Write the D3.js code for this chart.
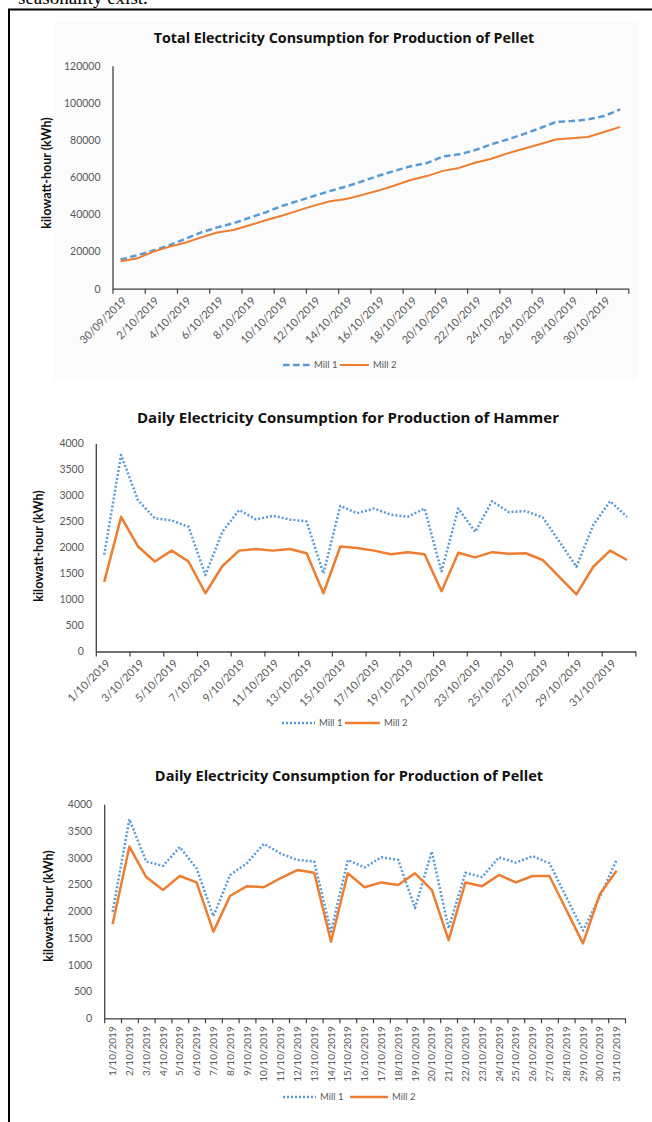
<!DOCTYPE html>
<html>
<head>
<meta charset="utf-8">
<script src="https://cdn.jsdelivr.net/npm/d3@7"></script>
<style>
  html, body { margin: 0; padding: 0; background: #ffffff; }
  svg { display: block; }
</style>
</head>
<body>
<svg id="page" width="652" height="1122"></svg>
<script>
// ---- Series shared by all three charts ----
const seriesNames = ["Mill 1", "Mill 2"];

// ---- Chart 1: cumulative electricity use for pellet production ----
const totalPelletDates = [
  "30/09/2019", "1/10/2019", "2/10/2019", "3/10/2019", "4/10/2019", "5/10/2019",
  "6/10/2019", "7/10/2019", "8/10/2019", "9/10/2019", "10/10/2019", "11/10/2019",
  "12/10/2019", "13/10/2019", "14/10/2019", "15/10/2019", "16/10/2019", "17/10/2019",
  "18/10/2019", "19/10/2019", "20/10/2019", "21/10/2019", "22/10/2019", "23/10/2019",
  "24/10/2019", "25/10/2019", "26/10/2019", "27/10/2019", "28/10/2019", "29/10/2019",
  "30/10/2019", "31/10/2019"
];
const totalPelletMill1 = [
  15700, 17900, 20400, 23300, 26700, 30300, 33000, 35200, 38200, 41100, 44500,
  47200, 49900, 52600, 55000, 57800, 60800, 63400, 65900, 67600, 71200, 72300,
  74600, 77700, 80300, 83200, 86300, 89700, 90200, 91100, 92900, 96500
];
const totalPelletMill2 = [
  14800, 16200, 19800, 22500, 24700, 27600, 30200, 31600, 34100, 36800, 39300,
  42000, 44700, 47100, 48300, 50500, 52800, 55500, 58500, 60600, 63400, 65000,
  67800, 69900, 72800, 75300, 77700, 80300, 80900, 81600, 84300, 87100
];
const totalTicks = [0, 20000, 40000, 60000, 80000, 100000, 120000];

// ---- Chart 2: daily electricity use for hammer production ----
const hammerDates = [
  "1/10/2019", "2/10/2019", "3/10/2019", "4/10/2019", "5/10/2019", "6/10/2019",
  "7/10/2019", "8/10/2019", "9/10/2019", "10/10/2019", "11/10/2019", "12/10/2019",
  "13/10/2019", "14/10/2019", "15/10/2019", "16/10/2019", "17/10/2019", "18/10/2019",
  "19/10/2019", "20/10/2019", "21/10/2019", "22/10/2019", "23/10/2019", "24/10/2019",
  "25/10/2019", "26/10/2019", "27/10/2019", "28/10/2019", "29/10/2019", "30/10/2019",
  "31/10/2019", "1/11/2019"
];
const hammerMill1 = [
  1860, 3780, 2910, 2560, 2520, 2400, 1470, 2300, 2720, 2540, 2610, 2540, 2500,
  1500, 2800, 2660, 2750, 2630, 2590, 2750, 1540, 2750, 2300, 2890, 2680, 2700,
  2580, 2110, 1630, 2430, 2890, 2590
];
const hammerMill2 = [
  1340, 2590, 2020, 1730, 1940, 1730, 1120, 1640, 1940, 1970, 1940, 1970, 1890,
  1120, 2020, 1990, 1940, 1870, 1910, 1870, 1160, 1900, 1810, 1910, 1880, 1890,
  1760, 1430, 1100, 1630, 1940, 1760
];

// ---- Chart 3: daily electricity use for pellet production ----
const pelletDates = [
  "1/10/2019", "2/10/2019", "3/10/2019", "4/10/2019", "5/10/2019", "6/10/2019",
  "7/10/2019", "8/10/2019", "9/10/2019", "10/10/2019", "11/10/2019", "12/10/2019",
  "13/10/2019", "14/10/2019", "15/10/2019", "16/10/2019", "17/10/2019", "18/10/2019",
  "19/10/2019", "20/10/2019", "21/10/2019", "22/10/2019", "23/10/2019", "24/10/2019",
  "25/10/2019", "26/10/2019", "27/10/2019", "28/10/2019", "29/10/2019", "30/10/2019",
  "31/10/2019"
];
const pelletMill1 = [
  1990, 3720, 2930, 2850, 3200, 2800, 1910, 2680, 2900, 3260, 3080, 2960, 2930,
  1620, 2960, 2820, 3010, 2960, 2060, 3120, 1680, 2720, 2640, 3010, 2910, 3030,
  2900, 2270, 1640, 2270, 2960
];
const pelletMill2 = [
  1760, 3210, 2640, 2400, 2660, 2540, 1620, 2290, 2470, 2450, 2620, 2770, 2720,
  1430, 2710, 2450, 2540, 2490, 2710, 2400, 1460, 2540, 2470, 2680, 2540, 2660,
  2660, 2030, 1400, 2320, 2760
];
const dailyTicks = [0, 500, 1000, 1500, 2000, 2500, 3000, 3500, 4000];

// ---- Styling ----
const FONT = "Lato, 'Open Sans', sans-serif";
const TITLE_FONT = "'Open Sans', Lato, sans-serif";
const BLUE = "#5b9bd5";
const ORANGE = "#ed7d31";
const AXIS = "#404040";
const TEXT = "#595959";

const svg = d3.select("#page");

// Line of body text above the figure frame (only its lower part shows)
svg.append("text")
  .attr("x", 18).attr("y", 4)
  .attr("font-family", "'Liberation Serif', 'Times New Roman', serif")
  .attr("font-size", 19)
  .attr("fill", "#000")
  .text("seasonality exist.");

// Figure frame
svg.append("path")
  .attr("d", "M9,1130 L9,9.5 L660,9.5")
  .attr("fill", "none")
  .attr("stroke", "#000")
  .attr("stroke-width", 2);

function drawChart(cfg) {
  const g = svg.append("g");

  if (cfg.bg) {
    g.append("rect")
      .attr("x", cfg.bg[0]).attr("y", cfg.bg[1])
      .attr("width", cfg.bg[2]).attr("height", cfg.bg[3])
      .attr("fill", "#fbfbfb");
  }

  // Title
  g.append("text")
    .attr("x", cfg.titleX).attr("y", cfg.titleY)
    .attr("text-anchor", "middle")
    .attr("font-family", TITLE_FONT)
    .attr("font-weight", 700)
    .attr("font-size", cfg.titleSize)
    .attr("fill", "#111")
    .text(cfg.title);

  const n = cfg.dates.length;
  const nSlots = n;

  // Category positions (band) and slot boundaries (linear index)
  const band = d3.scaleBand()
    .domain(d3.range(nSlots))
    .range([cfg.x0, cfg.x1])
    .padding(0);
  const slot = d3.scaleLinear().domain([0, nSlots]).range([cfg.x0, cfg.x1]);
  const cx = i => band(i) + band.bandwidth() / 2;

  const y = d3.scaleLinear()
    .domain([0, d3.max(cfg.yTicks)])
    .range([cfg.yBottom, cfg.yTop]);

  // Y axis
  const yAxis = g.append("g")
    .attr("transform", `translate(${cfg.x0},0)`)
    .call(d3.axisLeft(y).tickValues(cfg.yTicks).tickSize(0).tickSizeOuter(0)
      .tickPadding(cfg.yPad).tickFormat(d3.format("d")));
  yAxis.select(".domain").attr("stroke", AXIS).attr("stroke-width", 1.3);
  yAxis.selectAll("text")
    .attr("font-family", FONT).attr("font-size", cfg.yTickSize)
    .attr("fill", TEXT);

  // X axis line with tick marks on category boundaries
  const xAxis = g.append("g")
    .attr("transform", `translate(0,${cfg.yBottom})`)
    .call(d3.axisBottom(slot)
      .tickValues(d3.range(0, nSlots + 1, cfg.tickEvery))
      .tickSize(5).tickSizeOuter(0).tickFormat(""));
  xAxis.select(".domain").attr("stroke", AXIS).attr("stroke-width", 1.3);
  xAxis.selectAll(".tick line").attr("stroke", AXIS).attr("stroke-width", 1.2);

  // Category labels
  const labelIdx = d3.range(0, n, cfg.labelEvery);
  const xLab = g.append("g")
    .attr("transform", `translate(0,${cfg.yBottom})`)
    .call(d3.axisBottom(band)
      .tickValues(labelIdx)
      .tickSize(0).tickSizeOuter(0)
      .tickFormat(i => cfg.dates[i]));
  xLab.select(".domain").remove();
  xLab.selectAll(".tick text")
    .attr("font-family", FONT).attr("font-size", cfg.xTickSize)
    .attr("fill", TEXT)
    .attr("text-anchor", "end")
    .attr("dy", "0.35em")
    .attr("x", 0).attr("y", 0)
    .attr("transform", `translate(${cfg.labelDx},${cfg.labelDy}) rotate(${cfg.labelRot})`);

  // Y axis title
  g.append("text")
    .attr("transform", `translate(${cfg.yLabelX},${cfg.yLabelY}) rotate(-90)`)
    .attr("text-anchor", "middle")
    .attr("dominant-baseline", "middle")
    .attr("font-family", FONT).attr("font-weight", 700)
    .attr("font-size", cfg.yLabelSize)
    .attr("fill", "#111")
    .text("kilowatt-hour (kWh)");

  // Series lines
  const line = d3.line().x((d, i) => cx(i)).y(d => y(d));
  const styles = [
    { color: BLUE, width: cfg.blueWidth, dash: cfg.blueDash },
    { color: ORANGE, width: cfg.orangeWidth, dash: null }
  ];
  [cfg.mill1, cfg.mill2].forEach((vals, k) => {
    g.append("path")
      .datum(vals)
      .attr("fill", "none")
      .attr("stroke", styles[k].color)
      .attr("stroke-width", styles[k].width)
      .attr("stroke-dasharray", styles[k].dash)
      .attr("stroke-linejoin", "round")
      .attr("d", line);
  });

  // Legend
  const lg = g.append("g").attr("transform", `translate(0,${cfg.legendY})`);
  seriesNames.forEach((name, k) => {
    const [a, b, t] = cfg.legendX[k];
    lg.append("line")
      .attr("x1", a).attr("x2", b).attr("y1", 0).attr("y2", 0)
      .attr("stroke", styles[k].color)
      .attr("stroke-width", styles[k].width)
      .attr("stroke-dasharray", styles[k].dash);
    lg.append("text")
      .attr("x", t).attr("y", 0)
      .attr("dy", "0.35em")
      .attr("font-family", FONT).attr("font-size", cfg.legendSize)
      .attr("fill", TEXT)
      .text(name);
  });
}

drawChart({
  title: "Total Electricity Consumption for Production of Pellet",
  titleX: 344, titleY: 43, titleSize: 14.3,
  bg: [54, 22, 583, 358],
  dates: totalPelletDates, mill1: totalPelletMill1, mill2: totalPelletMill2,
  yTicks: totalTicks,
  x0: 112.5, x1: 628.3, yTop: 65.7, yBottom: 288.7,
  tickEvery: 2, labelEvery: 2, labelRot: -45, labelDx: 4, labelDy: 10,
  yTickSize: 10.5, xTickSize: 11, yPad: 12,
  yLabelX: 48, yLabelY: 173, yLabelSize: 12.5,
  blueWidth: 2.5, blueDash: "6.5,3.5", orangeWidth: 2,
  legendY: 365, legendSize: 9.5,
  legendX: [[283, 311, 314], [340, 369, 373]]
});

drawChart({
  title: "Daily Electricity Consumption for Production of Hammer",
  titleX: 348, titleY: 423, titleSize: 15,
  dates: hammerDates, mill1: hammerMill1, mill2: hammerMill2,
  yTicks: dailyTicks,
  x0: 95.8, x1: 635.4, yTop: 443.5, yBottom: 651.5,
  tickEvery: 2, labelEvery: 2, labelRot: -45, labelDx: 4, labelDy: 10,
  yTickSize: 10.5, xTickSize: 11, yPad: 12,
  yLabelX: 40, yLabelY: 546, yLabelSize: 12.5,
  blueWidth: 2.5, blueDash: "2,2", orangeWidth: 2.5,
  legendY: 723, legendSize: 9.5,
  legendX: [[282, 315, 319], [345, 380, 384]]
});

drawChart({
  title: "Daily Electricity Consumption for Production of Pellet",
  titleX: 349, titleY: 781, titleSize: 14.6,
  dates: pelletDates, mill1: pelletMill1, mill2: pelletMill2,
  yTicks: dailyTicks,
  x0: 104.2, x1: 625, yTop: 804.3, yBottom: 1018.3,
  tickEvery: 1, labelEvery: 1, labelRot: -90, labelDx: 0, labelDy: 8,
  yTickSize: 10.5, xTickSize: 10, yPad: 12,
  yLabelX: 50, yLabelY: 906, yLabelSize: 12.5,
  blueWidth: 2.5, blueDash: "2,2", orangeWidth: 2.5,
  legendY: 1097, legendSize: 9.5,
  legendX: [[283, 316, 320], [350, 388, 392]]
});
</script>
</body>
</html>
